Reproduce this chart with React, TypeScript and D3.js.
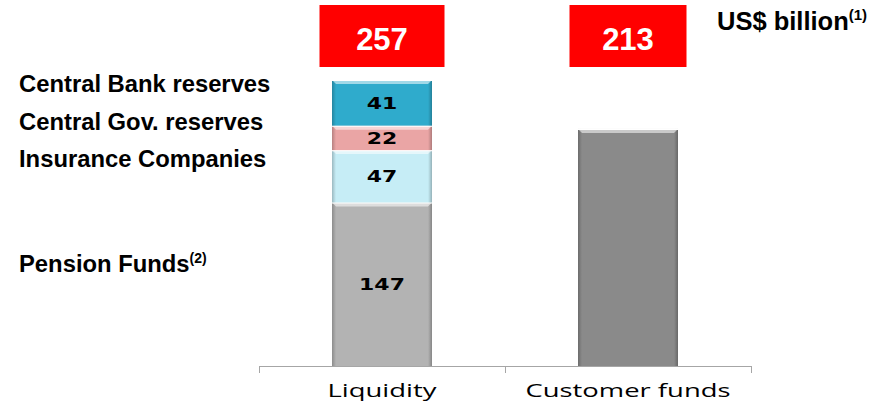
import React from "react";
import * as d3 from "d3";

const categories = ["Liquidity", "Customer funds"];
const liquiditySegments = ["Pension Funds", "Insurance Companies", "Central Gov. reserves", "Central Bank reserves"];
const liquidityValues = [147, 47, 22, 41];
const customerFundsValue = 213;
const segmentColors = ["#b3b3b3", "#c6edf6", "#eaa5a5", "#2fabcc"];
const customerColor = "#8a8a8a";
const legendLabels = [
  { text: "Central Bank reserves", sup: "" },
  { text: "Central Gov. reserves", sup: "" },
  { text: "Insurance Companies", sup: "" },
  { text: "Pension Funds", sup: "(2)" },
];
const unitLabel = "US$ billion";
const unitSup = "(1)";

const W = 891;
const H = 403;
const axisY = 366;
const topY = 80;
const BAR_W = 100;

export default function App() {
  const total = d3.sum(liquidityValues);
  const x = d3.scaleBand<string>().domain(categories).range([259, 751]).padding(0);
  const y = d3.scaleLinear().domain([0, total]).range([axisY, topY]);
  const stackData = liquidityValues.reduce<{ v: number; y0: number; y1: number; i: number }[]>((acc, v, i) => {
    const y0 = i === 0 ? 0 : acc[i - 1].y1;
    acc.push({ v, y0, y1: y0 + v, i });
    return acc;
  }, []);
  const cx = (c: string) => (x(c) as number) + x.bandwidth() / 2;
  const totals = [total, customerFundsValue];
  const boxWidths = [125, 117];
  const legendYs = [92, 130, 167, 272];

  const bevel = (bx: number, by: number, bw: number, bh: number, key: string) => {
    const e = Math.min(4, bh / 3);
    return (
      <g key={key}>
        <rect x={bx} y={by} width={bw} height={bh} fill={`url(#sideShade)`} />
        <polygon
          points={`${bx},${by} ${bx + bw},${by} ${bx + bw - 4},${by + e} ${bx + 4},${by + e}`}
          fill="#ffffff"
          fillOpacity={0.55}
        />
        <line x1={bx} x2={bx + bw} y1={by + 0.5} y2={by + 0.5} stroke="#ffffff" strokeWidth={1.2} />
      </g>
    );
  };

  return (
    <svg width={W} height={H} style={{ position: "absolute", left: 0, top: 0 }}>
      <defs>
        <linearGradient id="sideShade" x1="0" x2="1" y1="0" y2="0">
          <stop offset="0" stopColor="#000" stopOpacity={0.22} />
          <stop offset="0.04" stopColor="#000" stopOpacity={0.0} />
          <stop offset="0.96" stopColor="#000" stopOpacity={0.0} />
          <stop offset="1" stopColor="#000" stopOpacity={0.25} />
        </linearGradient>
      </defs>
      <rect x={0} y={0} width={W} height={H} fill="#ffffff" />

      {stackData.map((d) => {
        const bx = cx(categories[0]) - BAR_W / 2;
        const by = y(d.y1);
        const bh = y(d.y0) - y(d.y1);
        return (
          <g key={`seg${d.i}`}>
            <rect x={bx} y={by} width={BAR_W} height={bh} fill={segmentColors[d.i]} />
            {bevel(bx, by, BAR_W, bh, `bv${d.i}`)}
            <text
              transform={`translate(${bx + BAR_W / 2},${(by + by + bh) / 2 + 6}) scale(1.33,1)`}
              textAnchor="middle"
              fontFamily="'DejaVu Sans', Verdana, sans-serif"
              fontWeight="bold"
              fontSize={16.5}
              fill="#000"
            >
              {d.v}
            </text>
          </g>
        );
      })}

      {(() => {
        const bx = cx(categories[1]) - BAR_W / 2;
        const by = y(customerFundsValue);
        const bh = axisY - by;
        return (
          <g>
            <rect x={bx} y={by} width={BAR_W} height={bh} fill={customerColor} />
            {bevel(bx, by, BAR_W, bh, "bvc")}
          </g>
        );
      })()}

      <line x1={259} x2={751} y1={axisY + 0.5} y2={axisY + 0.5} stroke="#a6a6a6" strokeWidth={1} />
      {[259, 505, 751].map((t) => (
        <line key={t} x1={t + 0.5} x2={t + 0.5} y1={axisY} y2={axisY + 7} stroke="#a6a6a6" strokeWidth={1} />
      ))}
      {categories.map((c, i) => (
        <text
          key={c}
          x={cx(c)}
          y={397}
          textAnchor="middle"
          fontFamily="'Open Sans', Calibri, sans-serif"
          fontSize={17.5}
          fill="#000"
          textLength={i === 0 ? 109 : 205}
          lengthAdjust="spacingAndGlyphs"
        >
          {c}
        </text>
      ))}

      {categories.map((c, i) => (
        <g key={`box${c}`}>
          <rect x={cx(c) - boxWidths[i] / 2} y={5} width={boxWidths[i]} height={62} fill="#ff0000" />
          <text
            x={cx(c)}
            y={50}
            textAnchor="middle"
            fontFamily="'Liberation Sans', Arial, sans-serif"
            fontWeight="bold"
            fontSize={31}
            fill="#ffffff"
          >
            {totals[i]}
          </text>
        </g>
      ))}

      <text x={717} y={30} fontFamily="'Liberation Sans', Arial, sans-serif" fontWeight="bold" fontSize={25.5} fill="#000">
        {unitLabel}
        <tspan fontSize={15} dy={-10}>{unitSup}</tspan>
      </text>

      {legendLabels.map((l, i) => (
        <text
          key={l.text}
          x={19}
          y={legendYs[i]}
          fontFamily="'Liberation Sans', Arial, sans-serif"
          fontWeight="bold"
          fontSize={23.8}
          fill="#000"
        >
          {l.text}
          {l.sup ? <tspan fontSize={14} dy={-9}>{l.sup}</tspan> : null}
        </text>
      ))}
    </svg>
  );
}
